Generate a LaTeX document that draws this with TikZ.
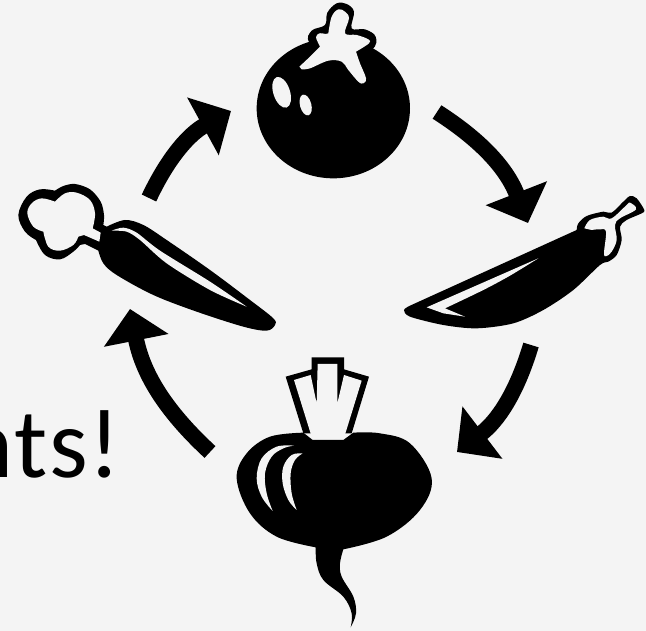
\documentclass[tikz,border=0pt]{standalone}
\usepackage{fontspec}
\setmainfont{Carlito}
\definecolor{PageGray}{HTML}{F4F4F4}
\usetikzlibrary{arrows.meta}
\tikzset{
  veg/.style={fill=black},
  hole/.style={fill=PageGray},
  cyclearrow/.style={draw=black, line width=16pt, -{Triangle[length=32pt,width=64pt]}}
}
\begin{document}
\begin{tikzpicture}[x=1pt, y=-1pt]
  \useasboundingbox (0,0) rectangle (646,631);
  \fill[PageGray] (0,0) rectangle (646,631);

  \begin{scope}
    \clip (0,0) rectangle (646,631);
    \node[anchor=base east, inner sep=0pt, font=\fontsize{99}{99}\selectfont] (slogan) at (121,477) {{\addfontfeatures{LetterSpace=2}nts}!};
  \end{scope}

  \coordinate (tomatoOut) at (437,112);
  \coordinate (eggplantIn) at (528,223);
  \coordinate (eggplantOut) at (531,345);
  \coordinate (beetIn) at (457,452);
  \coordinate (beetOut) at (210,452);
  \coordinate (carrotIn) at (130,309);
  \coordinate (carrotOut) at (149,198);
  \coordinate (tomatoIn) at (231,111);
  \foreach \from/\to in {tomatoOut/eggplantIn, eggplantOut/beetIn, beetOut/carrotIn, carrotOut/tomatoIn}
    \draw[cyclearrow] (\from) to[bend left=18] (\to);

  % tomato
  \begin{scope}[shift={(230,0)}, scale=1/3]
    \fill[veg] (310,325) ellipse [x radius=230, y radius=210];
    \fill[veg] plot[smooth cycle, tension=0.6] coordinates {(240,130) (245,92) (285,75) (292,38) (320,10) (350,12) (372,35) (365,85) (405,88) (437,110) (425,150) (330,200)};
    \fill[hole] plot[smooth, tension=0.5] coordinates {(208,200) (240,170) (270,140)} -- plot[smooth, tension=0.5] coordinates {(270,140) (258,112) (268,100) (287,102)} -- plot[smooth, tension=0.6] coordinates {(295,100) (305,50) (325,28) (345,35) (357,55) (345,100) (380,105) (415,118) (417,130) (378,155)} -- plot[smooth, tension=0.6] coordinates {(378,155) (390,190) (408,235) (400,250) (385,245) (355,210) (335,185) (295,182) (240,205) (215,208)} -- cycle;
    \fill[hole] (155,277) ellipse [x radius=25, y radius=48, rotate=18];
    \fill[hole] (227,315) ellipse [x radius=17, y radius=32, rotate=15];
  \end{scope}

  % eggplant
  \begin{scope}[shift={(400,190)}, scale=1/3]
    \fill[veg] plot[smooth, tension=0.5] coordinates {(30,347) (12,360) (30,380) (130,405) (230,415) (340,400) (430,360) (520,300) (600,225) (625,215) (650,195) (665,150) (660,110) (680,90) (725,70) (733,60) (710,25) (690,18) (670,35) (635,68) (610,65) (560,78) (535,100) (530,120)} -- cycle;
    \fill[hole] plot[smooth, tension=0.6] coordinates {(553,115) (570,90) (610,80) (635,85) (680,45) (690,38) (708,58) (660,85) (645,105) (650,150) (635,185) (620,198) (612,190) (618,125) (600,118) (575,120)} -- cycle;
    \fill[hole] (80,352) -- (415,205) -- plot[smooth, tension=0.5] coordinates {(415,205) (330,257) (250,300) (135,355)} -- (195,380) -- (130,370) -- cycle;
  \end{scope}

  % carrot
  \begin{scope}[shift={(10,180)}, scale=1/3]
    \fill[veg] plot[smooth, tension=0.55] coordinates {(135,32) (160,18) (195,12) (240,28) (272,65) (282,105) (280,135)} -- (290,140) -- plot[smooth, tension=0.55] coordinates {(290,140) (345,120) (400,135) (470,180) (600,270) (720,360) (790,415) (795,435) (770,452) (700,440) (560,395) (430,345) (320,285) (280,250) (265,212)} -- (225,192) -- plot[smooth, tension=0.6] coordinates {(210,195) (190,215) (150,238) (105,225) (78,180)} -- plot[smooth, tension=0.6] coordinates {(78,180) (45,155) (25,105) (50,50) (90,28) (135,32)} -- cycle;
    \fill[hole] plot[smooth, tension=0.6] coordinates {(135,65) (165,40) (200,38) (240,60) (255,100) (248,145)} -- (272,158) -- (268,185) -- (222,165) -- plot[smooth, tension=0.6] coordinates {(205,170) (190,195) (150,212) (115,200) (100,155)} -- plot[smooth, tension=0.6] coordinates {(100,155) (70,140) (52,100) (65,70) (95,55) (135,65)} -- cycle;
    \fill[hole] plot[smooth, tension=0.5] coordinates {(305,152) (340,143) (380,158) (450,212) (600,305) (710,380)} -- plot[smooth, tension=0.5] coordinates {(710,380) (600,330) (470,250) (390,180) (350,155) (305,152)} -- cycle;
  \end{scope}

  % beet
  \begin{scope}[shift={(220,350)}, scale=1/3]
    \fill[veg] (197,80) -- (275,58) -- (275,22) -- (372,22) -- (372,58) -- (447,80) -- (395,250) -- (250,250) -- cycle;
    \fill[hole] (293,42) -- (352,42) -- (352,160) -- (372,75) -- (425,92) -- (370,270) -- (278,270) -- (222,90) -- (272,75) -- (290,160) -- cycle;
    \fill[veg] plot[smooth, tension=0.6] coordinates {(250,248) (150,260) (80,310) (50,385) (90,490) (170,560) (287,592)} -- plot[smooth, tension=0.6] coordinates {(287,592) (290,640) (310,690) (370,740) (395,790) (392,832)} -- plot[smooth, tension=0.6] coordinates {(392,832) (408,790) (400,740) (365,680) (360,640) (370,598)} -- plot[smooth, tension=0.6] coordinates {(370,598) (500,560) (600,480) (635,385) (570,280) (480,250) (400,248)} -- (370,270) -- (278,270) -- cycle;
    \fill[hole] plot[smooth, tension=0.6] coordinates {(222,287) (170,290) (125,325) (110,385) (125,440) (158,483)} -- plot[smooth, tension=0.6] coordinates {(158,483) (140,430) (135,370) (155,320) (190,295) (222,287)} -- cycle;
    \fill[hole] plot[smooth, tension=0.6] coordinates {(248,310) (215,315) (190,350) (188,400) (205,450) (230,480)} -- plot[smooth, tension=0.6] coordinates {(230,480) (215,430) (212,370) (225,330) (248,310)} -- cycle;
  \end{scope}
\end{tikzpicture}
\end{document}
